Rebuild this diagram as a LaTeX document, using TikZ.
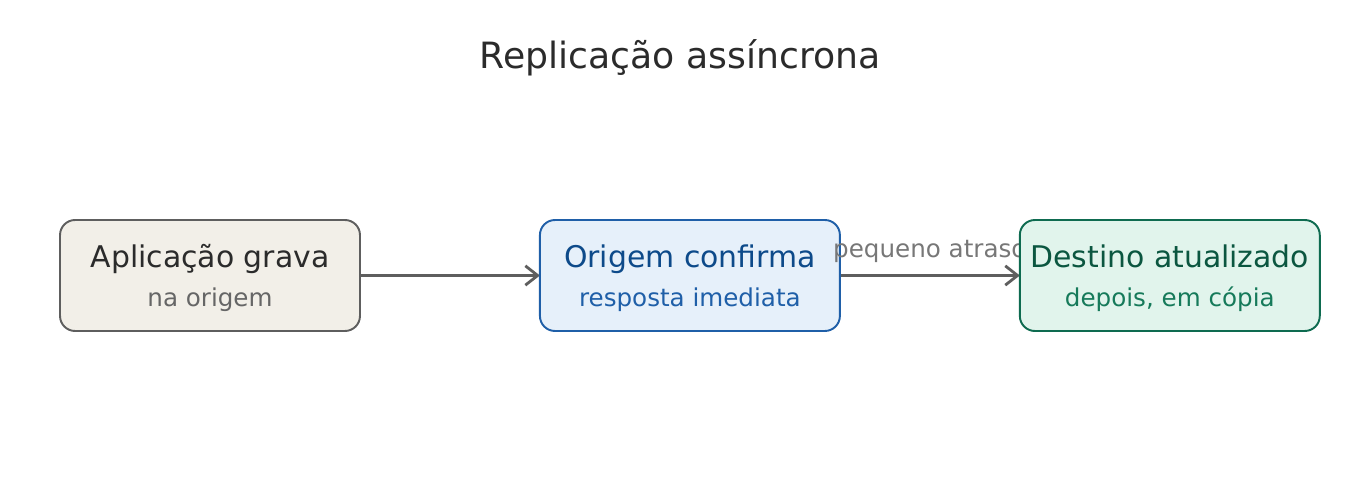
\documentclass[tikz,border=0pt]{standalone}
\usepackage{fontspec}
\setmainfont{DejaVu Sans}
\usetikzlibrary{arrows.meta, positioning, backgrounds}
\pgfdeclarelayer{front}
\pgfsetlayers{background,main,front}
\definecolor{inkdark}{HTML}{2B2B2B}
\definecolor{appfill}{HTML}{F2EFE8}
\definecolor{appline}{HTML}{5E5E5E}
\definecolor{appsub}{HTML}{666666}
\definecolor{origfill}{HTML}{E6F0FA}
\definecolor{origline}{HTML}{1F5FA8}
\definecolor{origink}{HTML}{0D4A8A}
\definecolor{origsub}{HTML}{1F5FA8}
\definecolor{destfill}{HTML}{E1F4EC}
\definecolor{destline}{HTML}{0E6B50}
\definecolor{destink}{HTML}{0B5640}
\definecolor{destsub}{HTML}{167A5A}
\definecolor{arrgray}{HTML}{5E5E5E}
\definecolor{lblgray}{HTML}{777777}
\tikzset{
  stepbox/.style = {
    rectangle, rounded corners=0.3cm, line width=1.1pt,
    minimum width=6cm, minimum height=2.22cm, inner sep=0pt, outer sep=0pt,
    align=center, font=\fontsize{17}{22}\selectfont
  },
  appbox/.style  = {stepbox, draw=appline, fill=appfill, text=inkdark},
  origbox/.style = {stepbox, draw=origline, fill=origfill, text=origink},
  destbox/.style = {stepbox, draw=destline, fill=destfill, text=destink},
  arr/.style = {-{Straight Barb[length=7pt, width=11pt]}, line width=1.6pt, arrgray},
  lbl/.style = {font=\fontsize{14}{16}\selectfont, text=lblgray}
}
\newcommand{\subtxt}[2]{{\color{#1}\fontsize{14}{16}\selectfont #2}}
\newcommand{\topstrut}{\rule{0pt}{16.3pt}}

\begin{document}
\begin{tikzpicture}[x=0.02cm, y=-0.02cm]
\useasboundingbox (0,0) rectangle (1360,500);

%% title
\node[anchor=base, text=inkdark, font=\fontsize{20.6}{24}\selectfont] (title)
      at (680,69) {Replicação assíncrona};

%% steps (left to right)
\node[appbox] (app) at (210,275.5)
      {\topstrut Aplicação grava\\ \subtxt{appsub}{na origem}};
\node[origbox, right=3.6cm of app] (orig)
      {\topstrut Origem confirma\\ \subtxt{origsub}{resposta imediata}};
\begin{pgfonlayer}{front}
\node[destbox, right=3.6cm of orig] (dest)
      {\topstrut Destino atualizado\\ \subtxt{destsub}{depois, em cópia}};
\end{pgfonlayer}

%% arrows behind the boxes
\begin{scope}[on background layer]
  \draw[arr] (app) -- (orig);
  \draw[arr] (orig) -- (dest);
\end{scope}

%% delay label: over the origin box, under the destination box
\path (orig) -- node[lbl, anchor=base, yshift=10.5pt] (delay) {pequeno atraso} (dest);

\end{tikzpicture}
\end{document}
